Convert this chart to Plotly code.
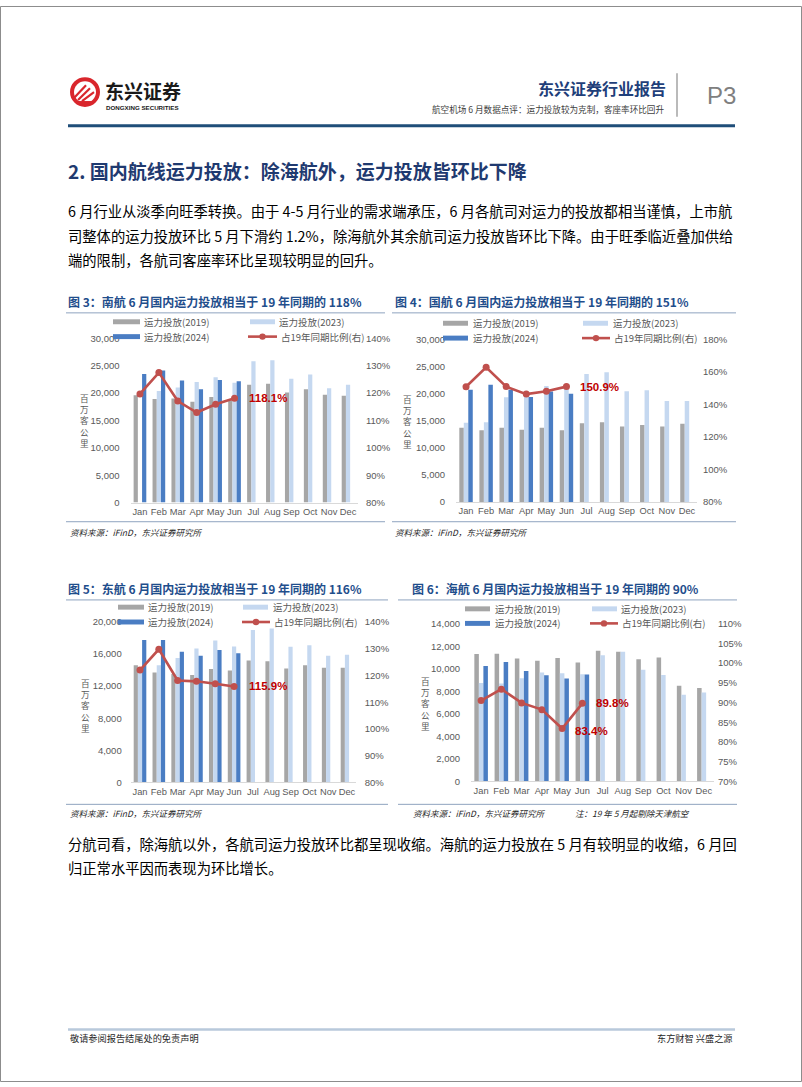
import plotly.graph_objects as go

W, H = 802, 1087
def fx(x): return x / W
def fy(y): return 1 - y / H

# ---------------- data ----------------
months = ["Jan", "Feb", "Mar", "Apr", "May", "Jun", "Jul", "Aug", "Sep", "Oct", "Nov", "Dec"]
series_names = ["运力投放(2019)", "运力投放(2023)", "运力投放(2024)", "占19年同期比例(右)"]

csair_2019 = [19600, 18900, 19000, 18400, 19300, 18700, 21500, 21700, 20100, 20700, 19700, 19500]
csair_2023 = [None, 20400, 21000, 22000, 22900, 21900, 25800, 26000, 22600, 23400, 20900, 21500]
csair_2024 = [23500, 24100, 22300, 20700, 22400, 22150]
csair_ratio = [119.7, 127.5, 117.1, 112.9, 115.9, 118.1]

airchina_2019 = [13700, 13200, 13700, 13300, 13700, 13200, 14500, 14700, 13900, 14200, 13900, 14400]
airchina_2023 = [14600, 14700, 19300, 20200, 21400, 21100, 23600, 23900, 20400, 20600, 18600, 18600]
airchina_2024 = [20700, 21600, 20700, 19350, 20350, 19950]
airchina_ratio = [150.8, 162.8, 150.9, 146.3, 148.0, 150.9]

ceair_2019 = [14600, 13700, 13500, 13400, 14150, 13950, 15200, 15100, 14200, 14600, 14300, 14300]
ceair_2023 = [14300, 14600, 15500, 16700, 17700, 16950, 19000, 19200, 16900, 17100, 15800, 15900]
ceair_2024 = [17750, 17750, 16300, 15800, 16500, 16100]
ceair_ratio = [122.0, 129.8, 118.1, 117.8, 116.9, 115.9]

hna_2019 = [11300, 11330, 10900, 10700, 10950, 10550, 11600, 11500, 10850, 11000, 8500, 8300]
hna_2023 = [8730, 8700, 9150, 9670, 9600, 9520, 11200, 11500, 9900, 9450, 7700, 7900]
hna_2024 = [10250, 10600, 9800, 9430, 9140, 9490]
hna_ratio = [90.5, 93.4, 89.9, 88.2, 83.4, 89.8]

# ---------------- styles ----------------
CJK = "Noto Sans CJK SC"
LAT = "Arial, Liberation Sans, sans-serif"
GRAY = "#A6A6A6"
LBLUE = "#C5D8F0"
BLUE = "#4A7DC3"
RED = "#C0504D"
LABEL_RED = "#C00000"
TXT = "#595959"
TITLE_BLUE = "#1F4E8C"
FRAME = "#8FA3BF"

charts = [
    dict(title="图 3：南航 6 月国内运力投放相当于 19 年同期的 118%",
         v19=csair_2019, v23=csair_2023, v24=csair_2024, ratio=csair_ratio,
         labels=[(5, 12, 0)],
         xdom=(130.5, 357.5), ydom=(335.7, 501.7), ymax=30000, ydt=5000,
         rr=(80, 140), rdt=10, lgap=11, rgap=8.5,
         tpos=(66, 299), frame=(66, 385, 310, 521), src=(68, 531), note=None,
         ytit=(84.5, 419),
         leg=dict(y1=319, y2=334, s1=(113, 140), t1=142, s2=(250, 275), t2=277,
                  s4=(248, 277), t4=279)),
    dict(title="图 4：国航 6 月国内运力投放相当于 19 年同期的 151%",
         v19=airchina_2019, v23=airchina_2023, v24=airchina_2024, ratio=airchina_ratio,
         labels=[(5, 12, 0)],
         xdom=(456, 697), ydom=(336.7, 501), ymax=30000, ydt=5000,
         rr=(80, 180), rdt=20, lgap=11, rgap=6,
         tpos=(393, 299), frame=(392, 736, 310, 521), src=(393, 531), note=None,
         ytit=(408, 420),
         leg=dict(y1=320.5, y2=335.5, s1=(443, 468), t1=471, s2=(583, 608), t2=611,
                  s4=(582, 610), t4=612)),
    dict(title="图 5：东航 6 月国内运力投放相当于 19 年同期的 116%",
         v19=ceair_2019, v23=ceair_2023, v24=ceair_2024, ratio=ceair_ratio,
         labels=[(5, 12.5, 0)],
         xdom=(130.6, 356.4), ydom=(622.3, 784.3), ymax=20000, ydt=4000,
         rr=(80, 140), rdt=10, lgap=9, rgap=8.5,
         tpos=(66, 588), frame=(66, 388, 600, 806.5), src=(68, 815), note=None,
         ytit=(85.5, 707),
         leg=dict(y1=607.3, y2=622.3, s1=(118, 144), t1=146, s2=(243, 268), t2=271,
                  s4=(242, 270), t4=272)),
    dict(title="图 6：海航 6 月国内运力投放相当于 19 年同期的 90%",
         v19=hna_2019, v23=hna_2023, v24=hna_2024, ratio=hna_ratio,
         labels=[(5, 11.5, 0), (4, 11, -2)],
         xdom=(471, 714), ydom=(624, 783.3), ymax=14000, ydt=2000,
         rr=(70, 110), rdt=5, lgap=11, rgap=4,
         tpos=(410, 588), frame=(398, 737, 600, 806.5), src=(411, 815),
         note=(573, 815, "注：19 年 5 月起剔除天津航空"),
         ytit=(425, 705),
         leg=dict(y1=609, y2=623.7, s1=(465, 490), t1=493, s2=(592, 617), t2=619,
                  s4=(590, 618), t4=620)),
]

fig = go.Figure()
shapes = []
annos = []
layout_axes = {}

def ann(x, y, text, size, color="#000", family=CJK, xanchor="left", yanchor="middle", **kw):
    annos.append(dict(x=fx(x), y=fy(y), xref="paper", yref="paper", text=text, showarrow=False,
                      xanchor=xanchor, yanchor=yanchor,
                      font=dict(size=size, color=color, family=family), **kw))

def hline(x0, x1, y, color, width):
    shapes.append(dict(type="line", xref="paper", yref="paper", x0=fx(x0), x1=fx(x1),
                       y0=fy(y), y1=fy(y), line=dict(color=color, width=width), layer="above"))

for i, c in enumerate(charts):
    k = i + 1
    xa = "x" if k == 1 else f"x{k}"
    yl = 2 * k - 1
    yr = 2 * k
    yla = "y" if yl == 1 else f"y{yl}"
    yra = f"y{yr}"
    xkey = "xaxis" if k == 1 else f"xaxis{k}"
    ylkey = "yaxis" if yl == 1 else f"yaxis{yl}"
    yrkey = f"yaxis{yr}"

    for vals, col in ((c["v19"], GRAY), (c["v23"], LBLUE), (c["v24"], BLUE)):
        fig.add_trace(go.Bar(x=months[:len(vals)], y=vals, marker=dict(color=col, line=dict(width=0)),
                             xaxis=xa, yaxis=yla, showlegend=False, hoverinfo="skip"))
    fig.add_trace(go.Scatter(x=months[:len(c["ratio"])], y=c["ratio"], mode="lines+markers",
                             line=dict(color=RED, width=2.6), marker=dict(color=RED, size=7),
                             xaxis=xa, yaxis=yra, showlegend=False, hoverinfo="skip"))
    for idx, xs, ys in c["labels"]:
        annos.append(dict(x=months[idx], y=c["ratio"][idx], xref=xa, yref=yra,
                          text=f"<b>{c['ratio'][idx]:.1f}%</b>", showarrow=False,
                          xanchor="left", yanchor="middle", xshift=xs, yshift=ys,
                          font=dict(size=11.5, color=LABEL_RED, family=LAT)))

    x0, x1 = c["xdom"]
    ty, by = c["ydom"]
    layout_axes[xkey] = dict(domain=[fx(x0), fx(x1)], anchor=yla, type="category",
                             categoryorder="array", categoryarray=months, range=[-0.5, 11.5],
                             showline=True, linecolor="#D9D9D9", linewidth=1, ticks="",
                             showgrid=False, zeroline=False, tickangle=0,
                             tickfont=dict(size=9.3, color=TXT, family=LAT))
    layout_axes[ylkey] = dict(domain=[fy(by), fy(ty)], anchor=xa, range=[0, c["ymax"]],
                              dtick=c["ydt"], tick0=0, tickformat=",d", showgrid=False,
                              zeroline=False, showline=False, ticks="outside",
                              ticklen=max(c["lgap"] - 3, 0), tickcolor="rgba(0,0,0,0)",
                              tickfont=dict(size=9.5, color=TXT, family=LAT))
    layout_axes[yrkey] = dict(domain=[fy(by), fy(ty)], anchor=xa, overlaying=yla, side="right",
                              range=list(c["rr"]), dtick=c["rdt"], tick0=c["rr"][0],
                              ticksuffix="%", showgrid=False, zeroline=False, showline=False,
                              ticks="outside", ticklen=max(c["rgap"] - 3, 0),
                              tickcolor="rgba(0,0,0,0)",
                              tickfont=dict(size=9.5, color=TXT, family=LAT))

    # title, frame, source
    ann(c["tpos"][0], c["tpos"][1], f"<b>{c['title']}</b>", 12, TITLE_BLUE)
    fx0, fx1, ft, fb = c["frame"]
    hline(fx0, fx1, ft, FRAME, 1)
    hline(fx0, fx1, fb, FRAME, 1)
    ann(c["src"][0], c["src"][1], "<i>资料来源：iFinD，东兴证券研究所</i>", 8.5, "#262626")
    if c["note"]:
        ann(c["note"][0], c["note"][1], f"<i>{c['note'][2]}</i>", 8.5, "#262626")

    # y title stacked (single text block)
    cx, cy = c["ytit"]
    ann(cx, cy, "<br>".join("百万客公里"), 8.6, TXT, xanchor="center")

    # legend
    L = c["leg"]
    for (sx, y, col) in ((L["s1"], L["y1"], GRAY), (L["s2"], L["y1"], LBLUE), (L["s1"], L["y2"], BLUE)):
        shapes.append(dict(type="rect", xref="paper", yref="paper", x0=fx(sx[0]), x1=fx(sx[1]),
                           y0=fy(y + 2.5), y1=fy(y - 2.5), fillcolor=col, line=dict(width=0),
                           layer="above"))
    hline(L["s4"][0], L["s4"][1], L["y2"], RED, 2.6)
    dx = (L["s4"][0] + L["s4"][1]) / 2
    shapes.append(dict(type="circle", xref="paper", yref="paper", x0=fx(dx - 3.2), x1=fx(dx + 3.2),
                       y0=fy(L["y2"] + 3.2), y1=fy(L["y2"] - 3.2), fillcolor=RED,
                       line=dict(width=0), layer="above"))
    ann(L["t1"], L["y1"], series_names[0], 9.5, TXT)
    ann(L["t2"], L["y1"], series_names[1], 9.5, TXT)
    ann(L["t1"], L["y2"], series_names[2], 9.5, TXT)
    ann(L["t4"], L["y2"], series_names[3], 9.5, TXT)

# ---------------- header ----------------
shapes.append(dict(type="circle", xref="paper", yref="paper", x0=fx(70), x1=fx(100),
                   y0=fy(102), y1=fy(72), fillcolor="#D9262C", line=dict(width=0), layer="above"))
shapes.append(dict(type="circle", xref="paper", yref="paper", x0=fx(74), x1=fx(96),
                   y0=fy(98), y1=fy(76), fillcolor="#FFFFFF", line=dict(width=0), layer="above"))
for (a, b, cc, d) in ((74, 93, 86, 80), (78, 95, 90, 83), (82, 96, 94, 87)):
    shapes.append(dict(type="line", xref="paper", yref="paper", x0=fx(a), y0=fy(b),
                       x1=fx(cc), y1=fy(d), line=dict(color="#D9262C", width=2.2), layer="above"))
shapes.append(dict(type="rect", xref="paper", yref="paper", x0=fx(78), x1=fx(92),
                   y0=fy(99), y1=fy(96), fillcolor="#D9262C", line=dict(width=0), layer="above"))
ann(104, 85, "<b>东兴证券</b>", 19, "#1A1A1A", borderpad=0)
ann(105, 103, "<b>DONGXING SECURITIES</b>", 6.2, "#1A1A1A", family=LAT, borderpad=0)
ann(668, 83, "<b>东兴证券行业报告</b>", 16, "#1F3F7A", xanchor="right")
ann(666, 104, "航空机场 6 月数据点评：运力投放较为克制，客座率环比回升", 8.6, "#404040", xanchor="right")
shapes.append(dict(type="line", xref="paper", yref="paper", x0=fx(677), x1=fx(677),
                   y0=fy(68), y1=fy(112), line=dict(color="#8C8C8C", width=1.2)))
ann(721, 90, "P3", 24, "#7F7F7F", family=LAT, xanchor="center")
hline(68, 735, 121, "#1F4E79", 3)

# ---------------- body text ----------------
ann(66, 166, "<b>2. 国内航线运力投放：除海航外，运力投放皆环比下降</b>", 19, "#1F3A70")
body1 = ["6 月行业从淡季向旺季转换。由于 4-5 月行业的需求端承压，6 月各航司对运力的投放都相当谨慎，上市航",
         "司整体的运力投放环比 5 月下滑约 1.2%，除海航外其余航司运力投放皆环比下降。由于旺季临近叠加供给",
         "端的限制，各航司客座率环比呈现较明显的回升。"]
for j, line in enumerate(body1):
    ann(66, 207 + j * 24.5, line, 14.3, "#000000")
body2 = ["分航司看，除海航以外，各航司运力投放环比都呈现收缩。海航的运力投放在 5 月有较明显的收缩，6 月回",
         "归正常水平因而表现为环比增长。"]
for j, line in enumerate(body2):
    ann(66, 846 + j * 24.5, line, 14.3, "#000000")

# ---------------- footer ----------------
hline(68, 735, 1034, "#B8C9DB", 2.5)
ann(68, 1043, "敬请参阅报告结尾处的免责声明", 9.2, "#262626")
ann(735, 1043, "东方财智 兴盛之源", 9.2, "#262626", xanchor="right")

# page border
shapes.append(dict(type="rect", xref="paper", yref="paper", x0=fx(0.5), x1=fx(801.5),
                   y0=fy(1086.5), y1=fy(0.5), line=dict(color="#8C8C8C", width=1),
                   fillcolor="rgba(0,0,0,0)", layer="above"))

fig.update_layout(width=W, height=H, autosize=False, margin=dict(l=0, r=0, t=0, b=0),
                  paper_bgcolor="white", plot_bgcolor="rgba(0,0,0,0)",
                  barmode="group", bargap=0.33, bargroupgap=0,
                  showlegend=False, shapes=shapes, annotations=annos,
                  font=dict(family=CJK), **layout_axes)

fig.write_html("out.html", config={"displayModeBar": False},
               post_script="document.body.style.margin='0';document.body.style.overflow='hidden';")
